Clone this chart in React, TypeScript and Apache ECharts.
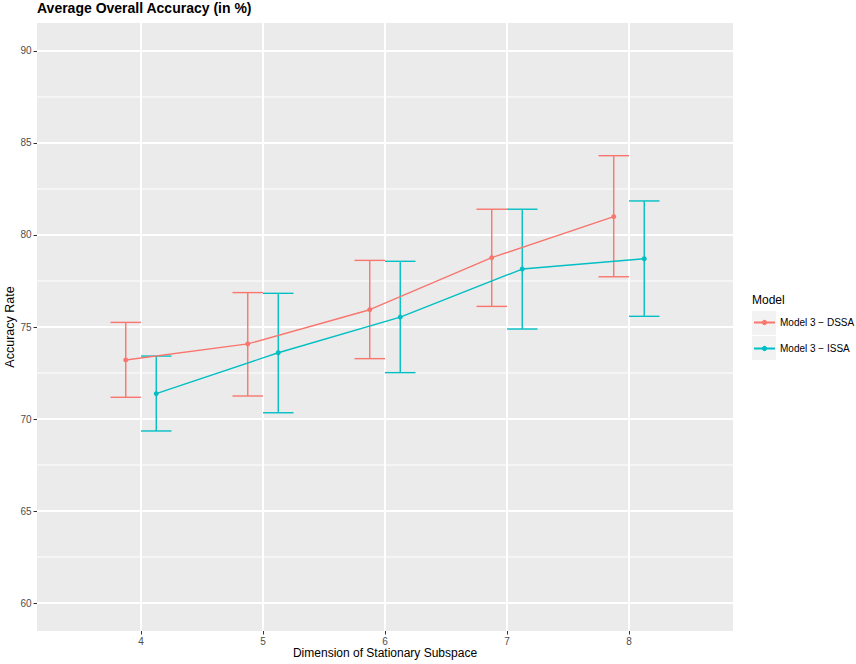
import React, { useEffect, useRef } from "react";
import * as echarts from "echarts";

const dims = [4, 5, 6, 7, 8];
const seriesNames = ["Model 3 − DSSA", "Model 3 − ISSA"];
const seriesColors = ["#F8766D", "#00BFC4"];

const dssaMean = [73.21, 74.08, 75.94, 78.77, 81.0];
const dssaLow = [71.18, 71.25, 73.28, 76.12, 77.73];
const dssaHigh = [75.25, 76.87, 78.62, 81.4, 84.31];

const issaMean = [71.38, 73.6, 75.54, 78.15, 78.71];
const issaLow = [69.35, 70.34, 72.52, 74.89, 75.58];
const issaHigh = [73.42, 76.83, 78.57, 81.4, 81.85];

const xTicks = [4, 5, 6, 7, 8];
const yTicks = [60, 65, 70, 75, 80, 85, 90];
const yMinor = [62.5, 67.5, 72.5, 77.5, 82.5, 87.5];

const FONT = "'Liberation Sans', Arial, Helvetica, sans-serif";
const DODGE = 0.125;
const CAP = 0.125;

function gridSeries(vals: number[], dir: "x" | "y", width: number) {
  return {
    type: "custom",
    silent: true,
    z: 1,
    data: vals.map((v) => (dir === "x" ? [v, 75] : [6, v])),
    encode: { x: 0, y: 1 },
    renderItem: (params: any, api: any) => {
      const cs = params.coordSys;
      const p = api.coord([api.value(0), api.value(1)]);
      const shape =
        dir === "x"
          ? { x1: p[0], y1: cs.y, x2: p[0], y2: cs.y + cs.height }
          : { x1: cs.x, y1: p[1], x2: cs.x + cs.width, y2: p[1] };
      return { type: "line", shape, style: { stroke: "#FFFFFF", lineWidth: width } };
    },
  };
}

function errorSeries(off: number, low: number[], high: number[], color: string) {
  return {
    type: "custom",
    silent: true,
    z: 2,
    data: dims.map((d, j) => [d + off, low[j], high[j]]),
    encode: { x: 0, y: [1, 2] },
    renderItem: (params: any, api: any) => {
      const x = api.value(0);
      const pLo = api.coord([x, api.value(1)]);
      const pHi = api.coord([x, api.value(2)]);
      const l = api.coord([x - CAP, api.value(1)])[0];
      const r = api.coord([x + CAP, api.value(1)])[0];
      const style = { stroke: color, lineWidth: 1.4 };
      return {
        type: "group",
        children: [
          { type: "line", shape: { x1: pLo[0], y1: pLo[1], x2: pHi[0], y2: pHi[1] }, style },
          { type: "line", shape: { x1: l, y1: pHi[1], x2: r, y2: pHi[1] }, style },
          { type: "line", shape: { x1: l, y1: pLo[1], x2: r, y2: pLo[1] }, style },
        ],
      };
    },
  };
}

export default function App() {
  const ref = useRef<HTMLDivElement>(null);
  useEffect(() => {
    document.body.style.margin = "0";
    const chart = echarts.init(ref.current!, null, { renderer: "svg" });
    const option: any = {
      animation: false,
      backgroundColor: "#FFFFFF",
      textStyle: { fontFamily: FONT },
      title: {
        text: "Average Overall Accuracy (in %)",
        left: 37,
        top: 1,
        padding: 0,
        textStyle: { fontSize: 14, fontWeight: "bold", color: "#000000", fontFamily: FONT },
      },
      grid: {
        left: 37,
        right: 123,
        top: 23,
        bottom: 33,
        show: true,
        backgroundColor: "#EBEBEB",
        borderWidth: 0,
        outerBoundsMode: "none",
      },
      legend: {
        orient: "vertical",
        left: 753,
        top: 315.5,
        padding: 0,
        itemWidth: 21,
        itemHeight: 6.5,
        itemGap: 12,
        selectedMode: false,
        data: seriesNames.map((n) => ({ name: n })),
        textStyle: { fontSize: 10, color: "#000000", lineHeight: 14, fontFamily: FONT },
      },
      graphic: [
        { type: "text", left: 752, top: 294, style: { text: "Model", fontSize: 12, fill: "#000000", font: `12px ${FONT}` } },
        { type: "rect", left: 752, top: 311, shape: { width: 24, height: 24 }, style: { fill: "#F2F2F2" } },
        { type: "rect", left: 752, top: 336, shape: { width: 24, height: 24 }, style: { fill: "#F2F2F2" } },
      ],
      xAxis: {
        type: "value",
        min: 3.1475,
        max: 8.8525,
        axisLine: { show: false },
        splitLine: { show: false },
        axisTick: { show: true, customValues: xTicks, length: 3.5, lineStyle: { color: "#333333", width: 1 } },
        axisLabel: { customValues: xTicks, margin: 5.5, color: "#4D4D4D", fontSize: 10, fontFamily: FONT },
        name: "Dimension of Stationary Subspace",
        nameLocation: "middle",
        nameGap: 16,
        nameMoveOverlap: false,
        nameTextStyle: { fontSize: 12, color: "#000000", fontFamily: FONT },
      },
      yAxis: {
        type: "value",
        min: 58.48,
        max: 91.52,
        axisLine: { show: false },
        splitLine: { show: false },
        axisTick: { show: true, customValues: yTicks, length: 3.5, lineStyle: { color: "#333333", width: 1 } },
        axisLabel: { customValues: yTicks, margin: 5.5, color: "#4D4D4D", fontSize: 10, fontFamily: FONT },
        name: "Accuracy Rate",
        nameLocation: "middle",
        nameGap: 21,
        nameMoveOverlap: false,
        nameTextStyle: { fontSize: 12.5, color: "#000000", fontFamily: FONT },
      },
      series: [
        gridSeries(yMinor, "y", 1),
        gridSeries(yTicks, "y", 2),
        gridSeries(xTicks, "x", 2),
        errorSeries(-DODGE, dssaLow, dssaHigh, seriesColors[0]),
        errorSeries(DODGE, issaLow, issaHigh, seriesColors[1]),
        {
          type: "line",
          name: seriesNames[0],
          z: 3,
          data: dims.map((d, j) => [d - DODGE, dssaMean[j]]),
          symbol: "circle",
          symbolSize: 5,
          lineStyle: { color: seriesColors[0], width: 1.4 },
          itemStyle: { color: seriesColors[0] },
        },
        {
          type: "line",
          name: seriesNames[1],
          z: 3,
          data: dims.map((d, j) => [d + DODGE, issaMean[j]]),
          symbol: "circle",
          symbolSize: 5,
          lineStyle: { color: seriesColors[1], width: 1.4 },
          itemStyle: { color: seriesColors[1] },
        },
      ],
    };
    chart.setOption(option);
    return () => chart.dispose();
  }, []);
  return <div ref={ref} style={{ width: 856, height: 664 }} />;
}
